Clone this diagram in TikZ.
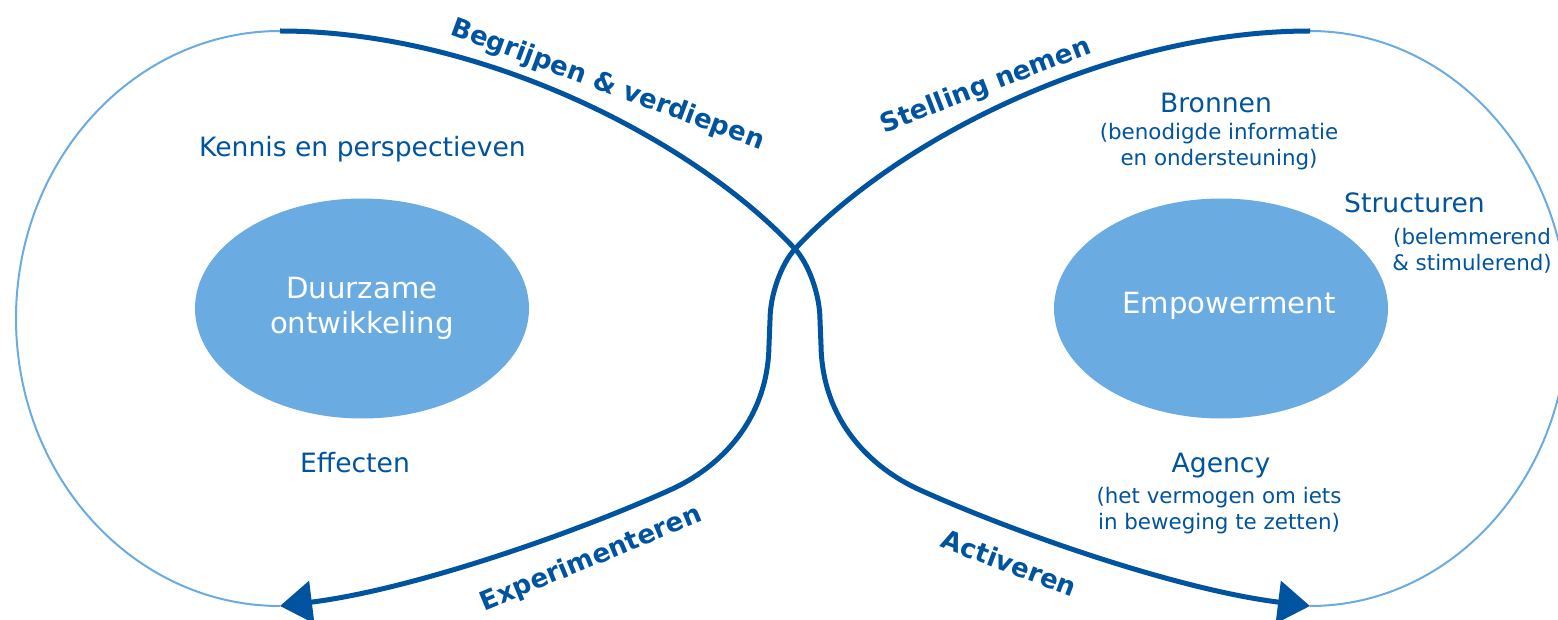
\documentclass[tikz,border=0pt]{standalone}
\usepackage{fontspec}
\setmainfont{DejaVu Sans}
\usetikzlibrary{shapes.geometric,arrows.meta}
\definecolor{dblue}{HTML}{00549F}
\definecolor{lblue}{HTML}{6AACE2}
\definecolor{rimblue}{HTML}{6AACE2}
\tikzset{
  lbl/.style={text=dblue, font=\fontsize{26.6}{31}\selectfont, anchor=base, inner sep=0pt},
  subl/.style={text=dblue, font=\fontsize{21.4}{26}\selectfont, anchor=base, align=center, inner sep=0pt},
  act/.style={text=dblue, font=\bfseries\fontsize{26.2}{30}\selectfont, anchor=base, inner sep=0pt},
  core/.style={ellipse, fill=lblue, minimum width=334pt, minimum height=220pt, inner sep=0pt},
  coretext/.style={text=white, font=\fontsize{29.2}{35}\selectfont, anchor=base, align=center, inner sep=0pt},
  flow/.style={draw=dblue, line width=5pt, line join=round, -{Triangle[length=32pt,width=42pt]}},
  rim/.style={draw=rimblue, line width=2pt},
}
\begin{document}
\begin{tikzpicture}[x=1pt,y=-1pt]
\useasboundingbox (0,0) rectangle (1558,620);
\clip (0,0) rectangle (1558,620);
% key points
\coordinate (tl) at (280,31);
\coordinate (tr) at (1310,31);
\coordinate (bl) at (280,606);
\coordinate (br) at (1310,606);
\coordinate (cross) at (795,249);
% thin outer arcs
\draw[rim] (tl) arc[start angle=270, end angle=90, x radius=264, y radius=287.5];
\draw[rim] (tr) arc[start angle=270, end angle=450, x radius=258, y radius=287.5];
% thick flows
\draw[flow] (tl) .. controls (480,31) and (693,139) .. (cross)
  .. controls (808.6,263.6) and (820,295) .. (820,320) -- (821,345)
  .. controls (822,420) and (870,467.5) .. (920,490)
  .. controls (1020,535) and (1180,590) .. (br);
\draw[flow] (tr) .. controls (1110,31) and (897,139) .. (cross)
  .. controls (781.4,263.6) and (770,295) .. (770,320) -- (769,345)
  .. controls (768,420) and (720,467.5) .. (670,490)
  .. controls (570,535) and (410,590) .. (bl);
% ellipses
\node[core] (dev) at (362,308.5) {};
\node[core] (emp) at (1221,308.5) {};
\node[coretext] (devtxt) at (362,334) {Duurzame\\ontwikkeling};
\node[coretext] (emptxt) at (1229,313) {Empowerment};
% left texts
\node[lbl] (kennis) at (362.5,157) {Kennis en perspectieven};
\node[lbl] (effect) at (355,472) {Effecten};
% right texts
\node[lbl] (bronnen) at (1216,113) {Bronnen};
\node[subl] (bronsub) at (1219,166) {(benodigde informatie\\en ondersteuning)};
\node[lbl] (struct) at (1414.5,213) {Structuren};
\node[subl] (structsub) at (1472,271) {(belemmerend\\\& stimulerend)};
\node[lbl] (agency) at (1221,472) {Agency};
\node[subl] (agencysub) at (1219,529) {(het vermogen om iets\\in beweging te zetten)};
% action labels
\node[act, rotate=-20.3] (begrijpen) at (605,92) {Begrijpen \& verdiepen};
\node[act, rotate=21.1] (stelling) at (988.5,93) {Stelling nemen};
\node[act, rotate=22.5] (exper) at (594,566) {Experimenteren};
\node[act, rotate=-20.7] (activ) at (1006,572) {Activeren};
\end{tikzpicture}
\end{document}
